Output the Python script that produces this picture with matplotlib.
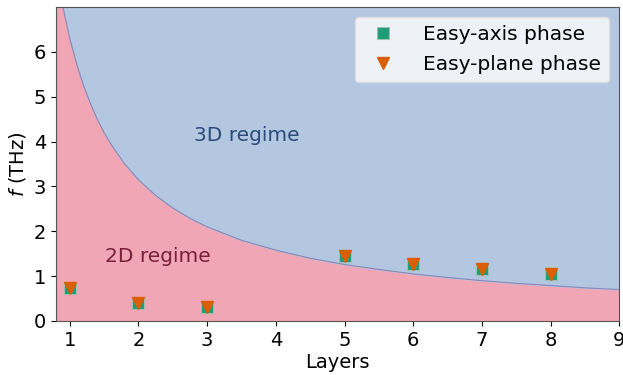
import matplotlib
matplotlib.use("Agg")
import matplotlib.pyplot as plt

# boundary between the 2D and 3D regimes
layers_curve = [0.8, 0.9, 1.0, 1.1, 1.2, 1.3, 1.4, 1.5, 1.6, 1.8, 2.0, 2.25, 2.5, 2.75,
                3.0, 3.5, 4.0, 4.5, 5.0, 5.5, 6.0, 6.5, 7.0, 7.5, 8.0, 8.5, 9.0]
f_curve = [7.9, 7.0, 6.3, 5.73, 5.25, 4.85, 4.5, 4.2, 3.94, 3.5, 3.15, 2.8, 2.52, 2.29,
           2.1, 1.8, 1.58, 1.4, 1.26, 1.15, 1.05, 0.97, 0.9, 0.84, 0.79, 0.74, 0.7]

layers = [1, 2, 3, 5, 6, 7, 8]
f_axis = [0.73, 0.40, 0.31, 1.46, 1.28, 1.15, 1.04]
f_plane = [0.73, 0.40, 0.31, 1.46, 1.28, 1.15, 1.04]

fig, ax = plt.subplots(figsize=(6.23, 3.75), dpi=100)
ax.fill_between(layers_curve, 0, f_curve, color="#f0a6b4", zorder=1)
ax.fill_between(layers_curve, f_curve, 7, color="#b3c7e0", zorder=1)
ax.plot(layers_curve, f_curve, color="#8a86b8", lw=0.8, zorder=2)

ax.plot(layers, f_axis, "s", color="#1b9e77", ms=9, mec="#9fbfb0", mew=0.8,
        label="Easy-axis phase", zorder=3)
ax.plot(layers, f_plane, "v", color="#d95f02", ms=9, label="Easy-plane phase", zorder=4)

ax.text(3.57, 4.14, "3D regime", color="#2c4a7c", fontsize=14.5, ha="center", va="center")
ax.text(2.28, 1.44, "2D regime", color="#7a1f3a", fontsize=14.5, ha="center", va="center")

ax.set_xlim(0.8, 9)
ax.set_ylim(0, 7)
ax.set_xticks(range(1, 10))
ax.set_yticks(range(0, 7))
ax.tick_params(labelsize=14)
ax.set_xlabel("Layers", fontsize=14, labelpad=2)
ax.set_ylabel("$f$ (THz)", fontsize=14)
for s in ax.spines.values():
    s.set_color("#555555")

leg = ax.legend(loc="upper right", fontsize=14.5, facecolor="#eef1f6", framealpha=1,
                edgecolor="#dddddd", handletextpad=1.0, labelspacing=0.55,
                markerscale=0.9)

fig.subplots_adjust(left=0.09, right=0.994, top=0.981, bottom=0.144)
fig.savefig("out.png", dpi=100)
